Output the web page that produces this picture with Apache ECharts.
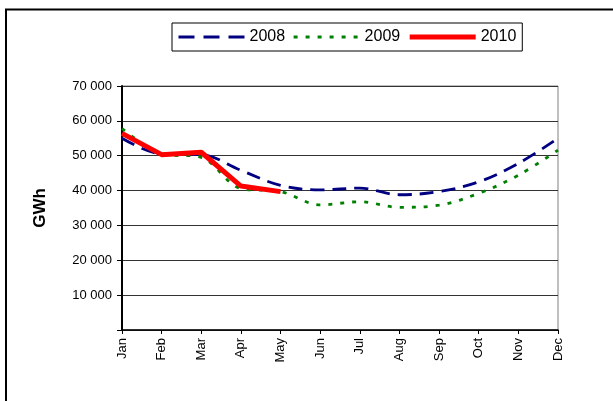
<!DOCTYPE html>
<html>
<head>
<meta charset="utf-8">
<script src="https://cdn.jsdelivr.net/npm/echarts@6/dist/echarts.min.js"></script>
<style>
  html, body { margin: 0; padding: 0; background: #fff; }
  #chart { width: 613px; height: 401px; }
</style>
</head>
<body>
<div id="chart"></div>
<script>
// 月份
const months = ['Jan', 'Feb', 'Mar', 'Apr', 'May', 'Jun', 'Jul', 'Aug', 'Sep', 'Oct', 'Nov', 'Dec'];
// 各年数据 (GWh)
const data2008 = [55000, 50500, 50300, 45800, 41500, 40200, 40700, 38800, 39700, 42500, 47800, 55000];
const data2009 = [57800, 50600, 49500, 40600, 39700, 35900, 36800, 35200, 35800, 39200, 44400, 51600];
const data2010 = [56400, 50300, 51000, 41300, 39700];
const yTicks = [0, 10000, 20000, 30000, 40000, 50000, 60000, 70000];

const FONT = 'Liberation Sans, Arial, sans-serif';

// 千位空格分隔
function fmt(v) {
  if (v === 0) return '';
  return String(v).replace(/\B(?=(\d{3})+(?!\d))/g, ' ');
}

const chart = echarts.init(document.getElementById('chart'));

const options = {
  animation: false,
  backgroundColor: '#fff',
  textStyle: { fontFamily: FONT },
  grid: {
    left: 122,
    right: 55,
    top: 86,
    bottom: 71,
    show: true,
    borderColor: '#808080',
    borderWidth: 1
  },
  legend: {
    left: 172,
    top: 23,
    padding: [6, 6, 6, 5],
    itemWidth: 66,
    itemHeight: 14,
    itemGap: 7,
    borderColor: '#000',
    borderWidth: 1,
    backgroundColor: '#fff',
    itemStyle: { opacity: 0 },
    textStyle: { fontSize: 16, color: '#000', fontFamily: FONT },
    data: [
      { name: '2008', lineStyle: { width: 3, type: [16, 9] } },
      { name: '2009', lineStyle: { width: 3, type: [4, 8] } },
      { name: '2010', lineStyle: { width: 5 } }
    ]
  },
  xAxis: {
    type: 'category',
    data: months,
    boundaryGap: false,
    axisLine: { lineStyle: { color: '#000', width: 1.5 } },
    axisTick: { show: true, length: 4, lineStyle: { color: '#000' } },
    axisLabel: {
      rotate: 90,
      margin: 8,
      interval: 0,
      fontSize: 13,
      color: '#000',
      fontFamily: FONT
    },
    splitLine: { show: false }
  },
  yAxis: {
    type: 'value',
    min: yTicks[0],
    max: yTicks[yTicks.length - 1],
    interval: 10000,
    name: 'GWh',
    nameLocation: 'middle',
    nameGap: 73,
    nameTextStyle: { fontSize: 17, fontWeight: 'bold', color: '#000', fontFamily: FONT },
    axisLine: { show: true, lineStyle: { color: '#000', width: 2 } },
    axisTick: { show: true, length: 5, lineStyle: { color: '#000' } },
    axisLabel: {
      margin: 10,
      fontSize: 13,
      color: '#000',
      fontFamily: FONT,
      formatter: fmt
    },
    splitLine: { show: true, lineStyle: { color: '#333', width: 1 } }
  },
  series: [
    {
      name: '2008',
      type: 'line',
      data: data2008,
      symbol: 'none',
      smooth: 0.35,
      lineStyle: { color: '#000080', width: 2.8, type: [14, 8] },
      itemStyle: { color: '#000080' }
    },
    {
      name: '2009',
      type: 'line',
      data: data2009,
      symbol: 'none',
      smooth: 0.35,
      lineStyle: { color: '#008000', width: 2.8, type: [4, 8] },
      itemStyle: { color: '#008000' }
    },
    {
      name: '2010',
      type: 'line',
      data: data2010,
      symbol: 'none',
      lineStyle: { color: '#ff0000', width: 5 },
      itemStyle: { color: '#ff0000' }
    }
  ],
  graphic: [
    {
      type: 'rect',
      silent: true,
      z: -1,
      shape: { x: 6, y: 9.5, width: 700, height: 500 },
      style: { fill: 'none', stroke: '#000', lineWidth: 2 }
    }
  ]
};

chart.setOption(options);
</script>
</body>
</html>
